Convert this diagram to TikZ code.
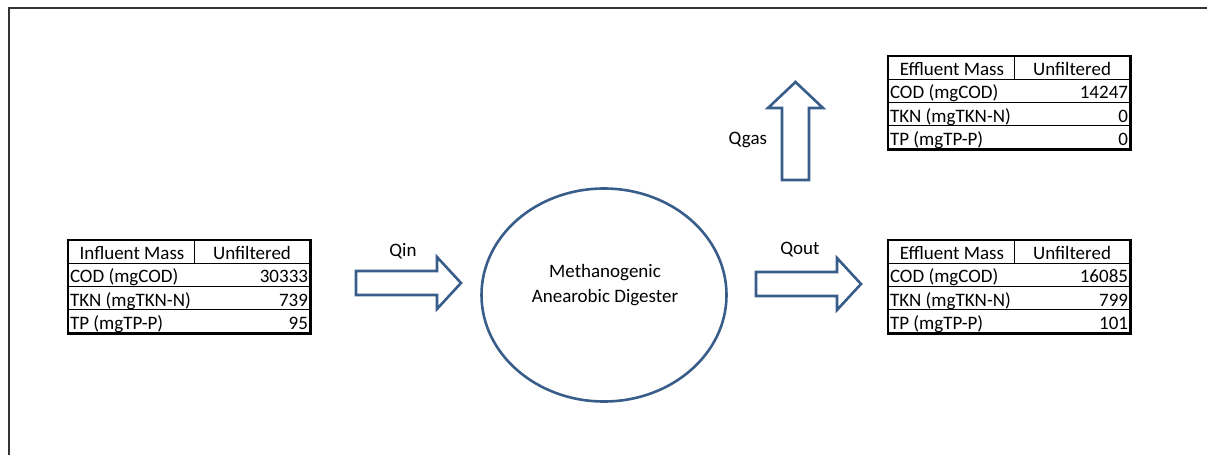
\documentclass[tikz,border=0pt]{standalone}
\usepackage{fontspec}
\setmainfont{Carlito}
\usetikzlibrary{shapes.geometric}
\definecolor{shapeblue}{RGB}{56,93,138}

% Mass balance table: name, x, y (top left), title, COD, TKN, TP
\newcommand\masstable[7]{%
  \begin{scope}[shift={(#2,#3)}]
    \node[tablebox, anchor=north west] (#1) at (0,0) {};
    \draw[rowline] (0,23.25) -- (242,23.25);
    \draw[rowline] (0,46.5) -- (242,46.5);
    \draw[rowline] (0,69.75) -- (242,69.75);
    \draw[rowline] (126,0) -- (126,23.25);
    \draw[shadowline] (242,0) -- (242,93) -- (0,93);
    \node[lbl, anchor=base] (#1-title) at (64,19.5) {#4};
    \node[lbl, anchor=base] (#1-col) at (184,19.5) {Unfiltered};
    \node[lbl, anchor=base west] (#1-cod) at (2,42.75) {COD (mgCOD)};
    \node[lbl, anchor=base west] (#1-tkn) at (2,66) {TKN (mgTKN-N)};
    \node[lbl, anchor=base west] (#1-tp) at (2,89.25) {TP (mgTP-P)};
    \node[lbl, anchor=base east] (#1-codv) at (240,42.75) {#5};
    \node[lbl, anchor=base east] (#1-tknv) at (240,66) {#6};
    \node[lbl, anchor=base east] (#1-tpv) at (240,89.25) {#7};
  \end{scope}}

\begin{document}
\begin{tikzpicture}[x=1pt, y=-1pt,
  lbl/.style={font=\fontsize{19}{23}\selectfont, inner sep=0pt, outer sep=0pt},
  tablebox/.style={draw=black, line width=2pt, minimum width=242pt, minimum height=93pt, inner sep=0pt, outer sep=0pt},
  rowline/.style={draw=black, line width=0.9pt},
  shadowline/.style={draw=black, line width=3pt, line cap=rect},
  blockarrow/.style={draw=shapeblue, line width=2.6pt, line join=miter, fill=white},
  vessel/.style={draw=shapeblue, line width=2.6pt, ellipse, minimum width=245pt, minimum height=213pt, inner sep=0pt},
  frame/.style={draw=black!80, line width=2pt}]
\useasboundingbox (0,0) rectangle (1207,455);

% outer frame (top and left edges)
\draw[frame] (9,455) -- (9,8) -- (1207,8);

% digester
\node[vessel] (dig) at (604,295) {};
\node[lbl, anchor=base] (dig-l1) at (605,277) {Methanogenic};
\node[lbl, anchor=base] (dig-l2) at (605,302) {Anearobic Digester};

% flow arrows
\draw[blockarrow] (356,271) -- (437,271) -- (437,257) -- (461,283) -- (437,309) -- (437,295) -- (356,295) -- cycle;
\node[lbl, anchor=base] (qin) at (403,256) {Qin};

\draw[blockarrow] (756,272) -- (837,272) -- (837,258) -- (861,284) -- (837,310) -- (837,296) -- (756,296) -- cycle;
\node[lbl, anchor=base] (qout) at (800,254) {Qout};

\draw[blockarrow] (782,180) -- (782,108) -- (768,108) -- (795.5,82) -- (823,108) -- (809,108) -- (809,180) -- cycle;
\node[lbl, anchor=base east] (qgas) at (767,144) {Qgas};

% tables
\masstable{tin}{68}{240}{Influent Mass}{30333}{739}{95}
\masstable{tgas}{888}{56}{Effluent Mass}{14247}{0}{0}
\masstable{tout}{888}{240}{Effluent Mass}{16085}{799}{101}
\end{tikzpicture}
\end{document}
